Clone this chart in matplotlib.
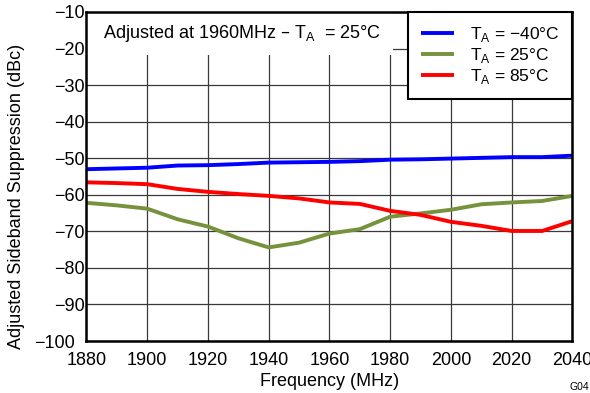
"""
adjusted sideband suppression vs frequency
"""
import numpy as np
import matplotlib
matplotlib.use('Agg')
import matplotlib.pyplot as plt
from matplotlib.patches import Rectangle
from matplotlib.transforms import ScaledTranslation

##data
freq = [1880, 1890, 1900, 1910, 1920, 1930, 1940, 1950, 1960,
        1970, 1980, 1990, 2000, 2010, 2020, 2030, 2040]
ta_m40 = [-53.0, -52.8, -52.6, -52.0, -51.9, -51.6, -51.2, -51.1, -51.0,
          -50.8, -50.4, -50.3, -50.1, -49.9, -49.7, -49.7, -49.3]
ta_25 = [-62.2, -62.9, -63.8, -66.7, -68.7, -71.9, -74.4, -73.1, -70.6,
         -69.4, -66.0, -65.1, -64.1, -62.6, -62.1, -61.7, -60.3]
ta_85 = [-56.6, -56.8, -57.1, -58.4, -59.2, -59.8, -60.3, -61.0, -62.1,
         -62.5, -64.4, -65.5, -67.4, -68.5, -69.9, -69.9, -67.2]
labels = [r'T$_\mathregular{A}$ = −40°C', r'T$_\mathregular{A}$ = 25°C',
          r'T$_\mathregular{A}$ = 85°C']
colors = ['#0000FF', '#76923C', '#FF0000']
xticks = np.arange(1880, 2041, 20)
yticks = np.arange(-100, -9, 10)

plt.rcParams['font.family'] = ['Liberation Sans', 'DejaVu Sans']
fs = 13

fig = plt.figure(figsize=(5.9, 3.93), dpi=100)
ax = fig.add_axes([0.1466, 0.1323, 0.8237, 0.8372])

for ys, lab, c in zip([ta_m40, ta_25, ta_85], labels, colors):
    ax.plot(freq, ys, color=c, lw=2.8, label=lab, solid_capstyle='butt', zorder=3)

ax.set_xlim(1880, 2040)
ax.set_ylim(-100, -10)
ax.set_xticks(xticks)
ax.set_yticks(yticks)
ax.grid(True, color='#3a3a3a', lw=0.9)
ax.set_axisbelow(True)
ax.tick_params(length=0, labelsize=fs)
ax.tick_params(axis='x', pad=8)
ax.tick_params(axis='y', pad=1.5)
for s in ax.spines.values():
    s.set_linewidth(1.8)
    s.set_zorder(5)

##-100 sits a little left of the others
lab0 = ax.get_yticklabels()[0]
lab0.set_transform(lab0.get_transform() + ScaledTranslation(-0.1, 0, fig.dpi_scale_trans))

ax.set_xlabel('Frequency (MHz)', fontsize=fs, labelpad=3)
ax.set_ylabel('Adjusted Sideband Suppression (dBc)', fontsize=13)
ax.yaxis.set_label_coords(-0.127, 0.44)

##white box behind the note
ax.add_patch(Rectangle((0, 0.869), 0.631, 0.131, transform=ax.transAxes,
                       facecolor='white', edgecolor='none', zorder=2))
ax.text(0.034, 0.936, r'Adjusted at 1960MHz – T$_\mathregular{A}$  = 25°C',
        transform=ax.transAxes, ha='left', va='center', fontsize=13, zorder=4)

leg = ax.legend(loc='upper right', borderaxespad=0, fancybox=False,
                framealpha=1, edgecolor='black', fontsize=12.5,
                handlelength=1.9, handletextpad=0.9, labelspacing=0.12,
                borderpad=0.75)
leg.get_frame().set_linewidth(1.5)
leg.set_zorder(6)

fig.text(0.999, 0.003, 'G04', ha='right', va='bottom', fontsize=7.5)

fig.savefig('out.png', dpi=100)
